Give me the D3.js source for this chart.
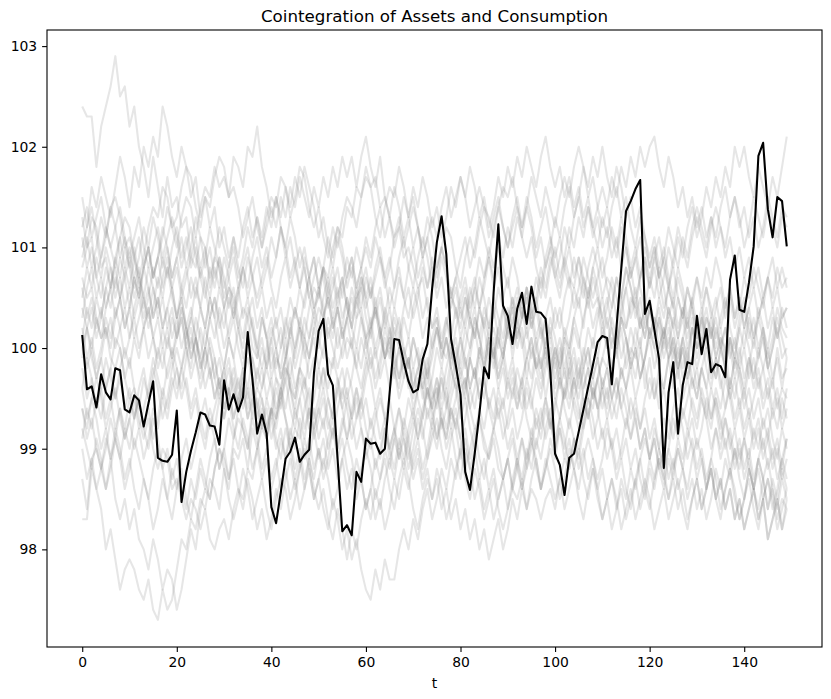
<!DOCTYPE html>
<html>
<head>
<meta charset="utf-8">
<script src="https://cdn.jsdelivr.net/npm/d3@7"></script>
<style>
  body { margin: 0; background: #fff; }
  svg text { font-family: "DejaVu Sans", sans-serif; fill: #000; }
</style>
</head>
<body>
<div id="chart"></div>
<script>
const chartTitle = "Cointegration of Assets and Consumption";
const xLabel = "t";
const xTicks = [0, 20, 40, 60, 80, 100, 120, 140];
const yTicks = [98, 99, 100, 101, 102, 103];

// highlighted path (black)
const consumption = [
  100.13, 99.59, 99.62, 99.41, 99.74, 99.56, 99.49, 99.80, 99.78, 99.39,
  99.36, 99.53, 99.48, 99.22, 99.45, 99.67, 98.91, 98.88, 98.87, 98.94,
  99.38, 98.47, 98.77, 98.98, 99.16, 99.36, 99.34, 99.23, 99.22, 99.04,
  99.68, 99.39, 99.54, 99.37, 99.51, 100.16, 99.69, 99.15, 99.34, 99.15,
  98.42, 98.26, 98.57, 98.90, 98.97, 99.11, 98.87, 98.94, 98.99, 99.75,
  100.17, 100.29, 99.74, 99.63, 98.90, 98.18, 98.24, 98.14, 98.77, 98.67,
  99.10, 99.05, 99.06, 98.95, 99.00, 99.55, 100.09, 100.08, 99.86, 99.67,
  99.56, 99.59, 99.89, 100.04, 100.59, 101.05, 101.31, 100.93, 100.09, 99.83,
  99.54, 98.77, 98.59, 98.95, 99.35, 99.81, 99.70, 100.55, 101.23, 100.42,
  100.32, 100.04, 100.39, 100.55, 100.24, 100.61, 100.36, 100.35, 100.29, 99.76,
  98.95, 98.84, 98.54, 98.91, 98.95, 99.17, 99.39, 99.61, 99.83, 100.06,
  100.12, 100.10, 99.64, 100.21, 100.79, 101.36, 101.46, 101.58, 101.67, 100.34,
  100.47, 100.18, 99.89, 98.81, 99.56, 99.86, 99.15, 99.63, 99.86, 99.84,
  100.32, 99.94, 100.19, 99.76, 99.84, 99.82, 99.71, 100.68, 100.92, 100.38,
  100.36, 100.65, 101.01, 101.91, 102.04, 101.38, 101.10, 101.50, 101.46, 101.01
];

// background paths (grey)
const path01 = [
  102.4,102.3,102.3,101.8,102.2,102.4,102.6,102.9,102.5,102.6, 102.2,102.4,102.0,101.8,101.5,101.9,101.6,101.3,101.7,101.4,
  101.5,101.2,101.3,100.9,100.8,101.1,101.0,100.6,100.9,100.8, 100.4,100.6,100.5,100.2,100.4,100.3,100.0,99.9,100.3,100.1,
  99.7,99.9,99.8,100.1,99.6,99.5,99.8,99.7,99.3,99.5, 99.8,99.6,99.9,99.8,100.2,99.9,100.1,100.0,100.3,100.4,
  100.1,100.2,100.5,100.2,99.9,100.0,99.7,100.0,99.8,99.9, 99.5,99.7,99.6,99.3,99.5,99.6,99.2,99.4,99.8,99.6,
  99.7,99.5,99.9,100.2,99.9,100.3,100.1,100.2,100.0,100.4, 100.3,99.9,100.2,100.1,99.7,100.0,99.8,99.9,99.5,99.8,
  100.0,99.7,100.1,100.0,100.3,100.5,100.2,100.6,100.4,100.5, 100.3,100.0,100.2,99.9,100.2,99.8,100.0,99.9,100.1,99.6,
  99.9,99.5,99.7,99.6,99.9,100.0,99.7,100.1,99.8,100.2, 100.0,100.1,100.3,100.2,99.9,100.1,100.0,99.6,99.9,99.8,
  99.5,99.8,100.1,99.9,100.2,99.8,99.6,100.0,99.7,99.8
];
const path02 = [
  98.3,98.3,98.8,98.6,98.4,98.0,98.2,97.9,97.6,97.8, 97.9,97.8,97.6,97.5,97.7,97.4,97.3,97.6,97.4,97.5,
  97.8,98.1,98.0,98.3,98.2,98.5,98.4,98.7,98.6,98.4, 98.8,98.6,99.0,98.9,99.1,98.8,99.2,99.0,99.3,99.1,
  99.4,99.2,99.5,99.3,99.0,99.2,99.1,99.4,99.6,99.3, 99.5,99.8,99.6,99.9,99.7,99.4,99.6,99.3,99.5,99.2,
  99.0,99.3,99.1,98.9,99.2,99.0,98.8,99.1,98.9,99.2, 99.4,99.1,99.3,99.6,99.4,99.7,99.5,99.8,100.0,99.7,
  99.9,100.2,100.0,100.3,100.1,99.8,100.1,99.9,99.6,99.8, 99.5,99.7,99.4,99.6,99.3,99.1,99.4,99.2,99.5,99.3,
  99.0,99.3,99.1,98.8,99.1,98.9,99.2,99.4,99.1,99.3, 99.6,99.4,99.7,99.5,99.8,99.6,99.3,99.5,99.2,99.4,
  99.1,99.3,99.0,98.8,99.0,99.3,99.1,99.4,99.2,99.5, 99.3,99.6,99.4,99.2,99.5,99.3,99.0,99.2,98.9,99.1,
  98.8,99.0,98.7,98.9,99.1,98.8,99.0,98.7,98.9,99.1
];
const path03 = [
  98.7,98.4,98.9,99.0,98.8,98.6,98.9,98.5,98.3,98.5, 98.2,98.4,98.1,98.0,97.8,98.1,97.9,97.6,97.8,97.7,
  97.4,97.6,97.9,98.2,98.0,98.4,98.6,98.5,98.8,99.0, 98.9,98.7,99.1,99.3,99.2,99.0,99.4,99.6,99.5,99.2,
  99.4,99.7,99.6,99.9,100.2,100.0,100.3,100.1,99.9,100.2, 100.4,100.3,100.6,100.8,100.5,100.7,100.4,100.2,100.5,100.6,
  100.3,100.1,100.4,100.2,99.9,100.1,99.8,99.6,99.9,99.7, 99.4,99.6,99.9,99.7,100.0,100.2,99.9,100.1,99.8,99.6,
  99.3,99.5,99.2,99.0,99.3,99.1,98.9,99.2,99.4,99.1, 99.3,99.6,99.4,99.7,99.9,100.1,99.8,100.0,100.3,100.1,
  100.4,100.2,100.5,100.7,100.6,100.9,100.7,100.5,100.8,100.6, 100.3,100.5,100.2,100.0,100.3,100.1,99.8,100.0,99.7,99.9,
  100.2,100.0,99.8,100.1,99.9,99.6,99.8,99.5,99.7,99.4, 99.2,99.5,99.3,99.0,99.2,98.9,99.1,98.8,99.0,98.7,
  98.5,98.8,98.6,98.9,98.7,98.4,98.7,98.5,98.8,98.6
];
const path04 = [
  101.5,101.2,101.6,101.4,101.7,101.5,101.3,101.6,101.9,101.7, 101.4,101.8,101.6,102.0,101.8,102.1,101.9,102.4,102.2,101.9,
  101.7,102.0,101.8,101.5,101.7,101.3,101.5,101.2,101.4,101.0, 101.2,100.9,101.1,100.8,100.6,100.9,100.7,100.4,100.6,100.3,
  100.5,100.2,100.4,100.1,100.3,99.9,100.2,100.0,99.7,99.9, 99.6,99.8,99.5,99.3,99.6,99.4,99.1,99.3,99.0,99.2,
  98.9,99.1,98.8,99.0,99.2,98.9,99.1,99.4,99.2,99.5, 99.3,99.6,99.8,99.5,99.7,100.0,99.8,100.1,99.9,100.2,
  100.4,100.2,100.5,100.7,100.4,100.6,100.9,100.7,101.0,100.8, 100.6,100.9,100.7,100.4,100.6,100.3,100.5,100.2,100.0,100.3,
  100.1,99.8,100.0,99.7,99.9,99.6,99.8,99.5,99.7,99.4, 99.6,99.3,99.5,99.7,99.4,99.6,99.8,99.5,99.7,99.9,
  100.1,99.8,100.0,100.2,100.0,100.3,100.1,100.4,100.2,100.5, 100.7,100.4,100.6,100.3,100.5,100.2,100.4,100.6,100.3,100.5,
  100.2,100.4,100.1,100.3,100.5,100.2,100.4,100.1,100.3,100.4
];
const path05 = [
  101.3,101.0,101.1,100.7,100.9,101.2,101.0,100.8,101.1,101.3, 101.2,100.9,100.6,100.8,101.0,100.7,100.9,101.1,101.4,101.2,
  101.0,101.3,101.5,101.4,101.1,101.4,101.6,101.5,101.8,101.6, 101.7,101.5,101.9,101.8,101.6,102.0,101.9,102.2,101.8,101.6,
  101.3,101.5,101.2,100.9,101.1,100.8,100.6,100.9,100.7,100.4, 100.5,100.8,100.6,100.3,100.5,100.7,100.4,100.2,100.5,100.3,
  100.0,100.2,99.9,100.1,100.4,100.2,99.9,99.7,100.0,99.8, 100.1,99.9,99.6,99.8,100.1,100.3,100.0,100.2,100.5,100.4,
  100.1,100.3,100.6,100.4,100.7,100.5,100.2,100.4,100.1,99.9, 100.2,100.4,100.1,100.3,100.6,100.3,100.5,100.8,100.6,100.9,
  100.7,100.5,100.8,101.0,100.7,100.9,100.6,100.4,100.7,100.5, 100.2,100.4,100.7,100.5,100.3,100.6,100.8,100.5,100.7,101.0,
  100.8,101.0,100.7,100.9,101.2,101.0,100.8,101.1,100.9,101.2, 101.4,101.2,101.0,101.3,101.1,101.4,101.6,101.3,101.5,101.2,
  101.4,101.1,101.3,101.0,101.2,101.5,101.3,101.1,101.4,101.3
];
const path06 = [
  101.0,101.2,101.4,101.1,100.8,100.9,100.6,100.8,100.5,100.7, 100.9,100.6,100.8,100.5,100.3,100.6,100.4,100.7,100.9,100.6,
  100.8,100.5,100.7,100.9,101.1,100.8,101.0,100.7,100.9,101.2, 101.0,100.8,101.1,100.9,101.2,101.4,101.1,101.3,101.0,101.2,
  101.4,101.2,101.5,101.3,101.6,101.4,101.7,101.5,101.3,101.6, 101.4,101.7,101.5,101.8,101.6,101.9,101.7,101.9,101.6,101.9,
  102.1,101.8,101.6,101.9,101.5,101.3,101.6,101.4,101.1,101.3, 101.0,101.2,100.9,101.1,100.8,100.6,100.9,100.7,100.4,100.6,
  100.3,100.5,100.2,100.4,100.1,99.9,100.2,100.0,99.7,99.9, 99.6,99.8,99.5,99.7,99.4,99.6,99.9,99.7,100.0,99.8,
  99.5,99.7,99.4,99.2,99.5,99.3,99.6,99.8,99.5,99.7, 99.9,100.1,99.8,100.0,100.3,100.1,99.9,100.2,100.0,100.3,
  100.5,100.2,100.4,100.1,100.3,100.0,99.8,100.1,99.9,99.6, 99.8,99.5,99.3,99.6,99.4,99.1,99.3,99.0,99.2,98.9,
  99.1,98.8,98.6,98.9,98.7,98.4,98.6,98.3,98.5,98.4
];
const path07 = [
  100.5,100.8,100.6,100.9,100.7,101.0,100.8,100.6,100.9,100.7, 100.4,100.7,100.5,100.8,101.0,100.7,100.9,100.6,100.8,100.5,
  100.3,100.5,100.2,100.0,100.3,100.1,99.8,100.1,99.9,99.6, 99.8,99.5,99.7,99.4,99.6,99.3,99.5,99.2,99.4,99.1,
  99.3,99.0,99.2,98.9,99.1,98.8,99.0,98.7,98.9,98.6, 98.4,98.6,98.3,98.1,98.4,98.2,97.9,98.2,98.0,98.3,
  98.5,98.3,98.6,98.4,98.7,98.9,98.7,99.0,98.8,99.1, 99.3,99.1,99.4,99.6,99.3,99.5,99.8,99.6,99.9,100.1,
  99.8,100.0,100.3,100.1,100.4,100.2,100.5,100.3,100.6,100.4, 100.2,100.5,100.3,100.0,100.2,99.9,100.1,99.8,100.0,99.7,
  99.9,99.6,99.8,99.5,99.7,99.4,99.2,99.5,99.3,99.0, 99.2,98.9,99.1,98.8,99.0,99.3,99.1,99.4,99.2,99.5,
  99.7,99.5,99.8,99.6,99.9,100.1,99.8,100.0,99.7,99.9, 100.2,100.0,100.3,100.1,100.4,100.6,100.3,100.5,100.2,100.4,
  100.7,100.5,100.8,100.6,100.4,100.7,100.5,100.8,100.6,100.7
];
const path08 = [
  100.4,100.2,100.0,100.3,100.1,100.4,100.6,100.3,100.5,100.8, 100.6,100.9,101.1,100.8,101.0,100.7,100.9,101.2,101.0,100.7,
  100.9,100.6,100.4,100.7,100.5,100.8,100.6,100.3,100.5,100.2, 100.4,100.6,100.3,100.5,100.8,100.6,100.9,101.1,100.8,101.0,
  100.7,100.9,101.2,101.0,100.7,100.9,100.6,100.8,100.5,100.3, 100.6,100.4,100.1,100.3,100.0,100.2,99.9,100.1,99.8,99.6,
  99.9,99.7,99.4,99.6,99.3,99.5,99.2,99.0,99.3,99.1, 98.8,99.0,98.7,98.9,99.2,99.0,99.3,99.1,99.4,99.2,
  99.5,99.7,99.4,99.6,99.9,99.7,100.0,99.8,100.1,99.9, 100.2,100.4,100.1,100.3,100.5,100.2,100.4,100.7,100.5,100.8,
  101.0,100.7,100.9,101.2,101.0,101.3,101.1,101.4,101.2,101.0, 101.3,101.1,101.4,101.6,101.3,101.5,101.2,101.0,101.3,101.1,
  100.8,101.0,100.7,100.9,100.6,100.4,100.7,100.5,100.2,100.4, 100.1,100.3,100.0,100.2,99.9,100.1,99.8,99.6,99.9,99.7,
  99.4,99.6,99.3,99.5,99.2,99.4,99.1,98.9,99.2,99.0
];
const path09 = [
  100.2,99.9,100.1,99.8,100.0,100.3,100.1,100.4,100.2,99.9, 100.1,100.4,100.6,100.3,100.5,100.8,100.6,100.9,100.7,101.0,
  101.2,100.9,101.1,100.8,101.0,100.7,100.5,100.8,100.6,100.9, 100.7,100.4,100.6,100.3,100.1,100.4,100.2,99.9,100.1,99.8,
  100.0,99.7,99.5,99.8,99.6,99.3,99.5,99.2,99.4,99.1, 99.3,99.5,99.2,99.4,99.7,99.5,99.8,99.6,99.3,99.5,
  99.8,100.0,99.7,99.9,100.2,100.0,100.3,100.1,100.4,100.6, 100.3,100.5,100.8,100.6,100.9,100.7,101.0,100.8,100.5,100.7,
  100.4,100.6,100.3,100.1,100.4,100.2,99.9,100.1,99.8,100.0, 99.7,99.9,99.6,99.4,99.7,99.5,99.2,99.4,99.1,99.3,
  99.0,99.2,98.9,99.1,98.8,99.0,98.7,98.5,98.8,98.6, 98.3,98.5,98.2,98.4,98.7,98.5,98.8,98.6,98.9,99.1,
  98.9,99.2,99.0,99.3,99.1,99.4,99.6,99.3,99.5,99.7, 99.5,99.8,99.6,99.9,99.7,100.0,99.8,100.1,99.9,100.2,
  100.0,100.3,100.1,100.4,100.2,100.0,100.3,100.1,100.4,100.2
];
const path10 = [
  99.9,100.2,100.4,100.1,100.3,100.6,100.4,100.7,100.5,100.2, 100.4,100.1,100.3,100.5,100.2,100.4,100.7,100.5,100.8,100.6,
  100.3,100.6,100.8,100.5,100.7,100.4,100.2,100.5,100.3,100.0, 99.8,100.1,99.9,99.6,99.8,99.5,99.7,99.4,99.2,99.5,
  99.3,99.6,99.4,99.7,99.9,99.6,99.8,100.1,99.9,100.2, 100.0,100.3,100.5,100.2,100.4,100.1,100.3,100.6,100.4,100.7,
  100.5,100.2,100.4,100.1,99.9,100.2,100.0,99.7,99.9,99.6, 99.8,99.5,99.3,99.6,99.4,99.1,99.3,99.0,99.2,98.9,
  98.7,99.0,98.8,98.5,98.7,98.4,98.6,98.3,98.5,98.7, 98.9,98.6,98.8,99.1,98.9,99.2,99.0,99.3,99.5,99.2,
  99.4,99.7,99.5,99.8,100.0,99.7,99.9,100.2,100.0,100.3, 100.5,100.2,100.4,100.7,100.5,100.8,100.6,100.3,100.5,100.2,
  100.4,100.1,100.3,100.0,100.2,99.9,100.1,99.8,100.0,99.7, 99.5,99.8,99.6,99.3,99.5,99.2,99.4,99.7,99.5,99.8,
  99.6,99.9,99.7,100.0,99.8,99.5,99.7,99.4,99.6,99.5
];
const path11 = [
  99.8,99.5,99.7,99.4,99.6,99.9,99.7,99.5,99.8,100.0, 99.8,100.1,99.9,100.2,100.4,100.1,100.3,100.0,100.2,99.9,
  100.1,100.3,100.0,100.2,99.9,99.7,100.0,99.8,99.5,99.7, 99.4,99.6,99.3,99.5,99.2,99.0,99.3,99.1,98.8,99.0,
  98.7,98.9,98.6,98.8,98.5,98.7,98.4,98.6,98.9,98.7, 99.0,98.8,99.1,99.3,99.0,99.2,99.5,99.3,99.6,99.4,
  99.7,99.9,99.6,99.8,100.1,99.9,100.2,100.0,100.3,100.1, 100.4,100.6,100.3,100.5,100.2,100.4,100.1,100.3,100.0,99.8,
  100.1,99.9,99.6,99.8,99.5,99.7,99.4,99.6,99.3,99.5, 99.2,99.4,99.1,99.3,99.6,99.4,99.7,99.5,99.8,100.0,
  99.7,99.9,100.2,100.0,100.3,100.1,99.8,100.0,99.7,99.9, 99.6,99.8,99.5,99.3,99.6,99.4,99.1,99.3,99.0,99.2,
  98.9,99.1,98.8,99.0,98.7,98.9,98.6,98.8,98.5,98.7, 98.4,98.6,98.3,98.5,98.8,98.6,98.9,98.7,99.0,98.8,
  99.1,98.9,99.2,99.0,99.3,99.1,98.8,99.0,98.7,98.9
];
const path12 = [
  99.4,99.2,99.5,99.3,99.0,99.2,98.9,99.1,99.4,99.2, 99.5,99.3,99.6,99.8,99.5,99.7,100.0,99.8,100.1,99.9,
  100.2,100.4,100.1,100.3,100.6,100.4,100.7,100.5,100.8,100.6, 100.9,100.7,100.4,100.6,100.3,100.5,100.2,100.0,100.3,100.1,
  99.8,100.0,99.7,99.9,99.6,99.4,99.7,99.5,99.2,99.4, 99.1,99.3,99.0,99.2,98.9,99.1,98.8,98.6,98.9,98.7,
  98.4,98.6,98.3,98.5,98.2,98.4,98.7,98.5,98.8,98.6, 98.9,99.1,98.8,99.0,99.3,99.1,99.4,99.2,99.5,99.7,
  99.4,99.6,99.9,99.7,100.0,99.8,100.1,99.9,100.2,100.0, 100.3,100.5,100.2,100.4,100.1,100.3,100.0,99.8,100.1,99.9,
  99.6,99.8,99.5,99.7,99.4,99.2,99.5,99.3,99.6,99.4, 99.7,99.5,99.8,100.0,99.7,99.9,100.2,100.0,100.3,100.1,
  100.4,100.2,100.5,100.3,100.6,100.4,100.1,100.3,100.0,100.2, 99.9,100.1,99.8,99.6,99.9,99.7,99.4,99.6,99.3,99.5,
  99.2,99.4,99.1,99.3,99.0,99.2,98.9,99.1,98.8,99.1
];
const path13 = [
  99.2,99.0,98.8,99.1,98.9,98.6,98.8,99.1,98.9,99.2, 99.0,99.3,99.5,99.2,99.4,99.1,99.3,99.6,99.4,99.7,
  99.5,99.8,99.6,99.3,99.5,99.2,99.0,99.3,99.1,98.8, 99.0,98.7,98.9,98.6,98.4,98.7,98.5,98.2,98.4,98.1,
  98.3,98.6,98.4,98.7,98.9,98.6,98.8,99.1,98.9,99.2, 99.4,99.2,99.5,99.3,99.6,99.8,99.5,99.7,100.0,99.8,
  100.1,100.3,100.0,100.2,99.9,100.1,99.8,100.0,99.7,99.9, 99.6,99.8,99.5,99.7,99.4,99.6,99.3,99.1,99.4,99.2,
  98.9,99.1,98.8,99.0,98.7,98.9,98.6,98.8,98.5,98.7, 98.4,98.6,98.9,98.7,99.0,98.8,99.1,98.9,99.2,99.4,
  99.1,99.3,99.6,99.4,99.7,99.5,99.8,100.0,99.7,99.9, 99.6,99.8,99.5,99.7,99.4,99.2,99.5,99.3,99.0,99.2,
  98.9,99.1,98.8,98.6,98.9,98.7,99.0,98.8,99.1,99.3, 99.0,99.2,99.5,99.3,99.6,99.4,99.7,99.5,99.2,99.4,
  99.1,99.3,99.0,99.2,98.9,99.1,99.4,99.2,99.5,99.3
];
const path14 = [
  99.0,98.7,98.9,98.6,98.8,99.1,98.9,99.2,99.0,98.7, 98.9,98.6,98.4,98.7,98.5,98.2,98.4,98.7,98.5,98.8,
  98.6,98.9,99.1,98.8,99.0,99.3,99.1,99.4,99.2,99.5, 99.3,99.6,99.8,99.5,99.7,99.4,99.6,99.3,99.5,99.2,
  99.4,99.1,98.9,99.2,99.0,98.7,98.9,98.6,98.8,98.5, 98.7,98.4,98.2,98.5,98.3,98.0,98.2,97.9,98.1,97.8,
  97.6,97.5,97.8,97.6,97.9,97.7,97.7,98.0,98.2,98.0, 98.3,98.1,98.4,98.6,98.3,98.5,98.8,98.6,98.9,98.7,
  99.0,99.2,98.9,99.1,99.4,99.2,99.5,99.3,99.6,99.4, 99.7,99.5,99.8,99.6,99.9,99.7,100.0,100.2,99.9,100.1,
  99.8,100.0,99.7,99.9,99.6,99.8,99.5,99.3,99.6,99.4, 99.1,99.3,99.0,99.2,98.9,99.1,98.8,99.0,98.7,98.5,
  98.8,98.6,98.9,98.7,99.0,98.8,99.1,98.9,99.2,99.0, 98.7,98.9,98.6,98.8,98.5,98.7,98.4,98.6,98.3,98.5,
  98.2,98.4,98.6,98.3,98.5,98.1,98.3,98.5,98.2,98.4
];
const path15 = [
  100.9,101.1,100.8,101.0,101.3,101.1,101.4,101.2,100.9,101.1, 100.8,101.0,100.7,100.5,100.8,100.6,100.3,100.5,100.2,100.4,
  100.1,100.3,100.0,99.8,100.1,99.9,99.6,99.8,99.5,99.7, 99.4,99.6,99.3,99.5,99.8,99.6,99.9,99.7,100.0,99.8,
  100.1,100.3,100.0,100.2,100.5,100.3,100.6,100.4,100.7,100.9, 100.6,100.8,101.1,100.9,101.2,101.0,100.7,100.9,100.6,100.8,
  100.5,100.7,100.4,100.6,100.3,100.1,100.4,100.2,99.9,100.1, 99.8,100.0,99.7,99.9,99.6,99.4,99.7,99.5,99.2,99.4,
  99.1,99.3,99.6,99.4,99.7,99.5,99.8,100.0,99.7,99.9, 100.2,100.0,100.3,100.5,100.2,100.4,100.7,100.5,100.8,101.0,
  100.7,100.9,101.2,101.0,101.3,101.5,101.2,101.4,101.1,101.3, 101.0,101.2,100.9,101.1,100.8,101.0,100.7,100.9,100.6,100.4,
  100.7,100.5,100.8,100.6,100.3,100.5,100.2,100.4,100.1,100.3, 100.0,100.2,100.4,100.1,100.3,100.0,100.2,99.9,100.1,99.8,
  100.0,99.7,99.9,99.6,99.8,100.0,99.7,99.9,99.6,99.9
];
const path16 = [
  100.6,100.3,100.5,100.2,100.4,100.1,100.3,100.0,100.2,100.4, 100.1,100.3,100.0,100.2,99.9,100.1,99.8,100.0,99.7,99.9,
  99.6,99.8,100.0,99.7,99.9,100.2,100.0,100.3,100.1,100.4, 100.2,100.5,100.3,100.6,100.8,100.5,100.7,100.9,100.6,100.8,
  101.1,100.9,101.2,101.0,101.3,101.1,100.8,101.0,100.7,100.9, 100.6,100.8,100.5,100.7,100.4,100.6,100.9,100.7,101.0,100.8,
  101.1,100.9,101.2,101.4,101.1,101.3,101.0,101.2,101.5,101.3, 101.6,101.4,101.7,101.5,101.2,101.4,101.1,101.3,101.6,101.4,
  101.7,101.5,101.8,101.6,101.3,101.5,101.2,101.4,101.7,101.5, 101.8,101.6,101.9,101.7,102.0,101.8,101.6,101.9,102.1,101.8,
  101.6,101.8,101.5,101.7,101.4,101.6,101.3,101.5,101.2,101.4, 101.6,101.4,101.7,101.5,101.8,101.6,101.9,101.7,102.0,101.8,
  102.0,102.1,101.8,101.6,101.9,101.7,101.4,101.6,101.3,101.5, 101.2,101.4,101.1,101.3,101.0,101.2,100.9,101.1,100.8,101.0,
  100.7,100.9,100.6,100.8,100.5,100.7,100.9,100.6,100.8,100.6
];
const path17 = [
  99.6,99.9,99.7,99.4,99.6,99.3,99.5,99.2,99.4,99.1, 99.3,99.0,99.2,98.9,99.1,99.4,99.2,99.5,99.3,99.6,
  99.8,99.5,99.7,99.4,99.6,99.3,99.5,99.2,99.4,99.6, 99.3,99.5,99.2,99.0,99.3,99.1,98.8,99.0,98.7,98.9,
  98.6,98.8,99.1,98.9,99.2,99.0,99.3,99.1,99.4,99.2, 98.9,99.1,98.8,99.0,98.7,98.9,98.6,98.8,98.5,98.7,
  98.4,98.6,98.9,98.7,99.0,98.8,99.1,98.9,99.2,99.0, 98.7,98.9,98.6,98.8,98.5,98.7,98.4,98.6,98.3,98.5,
  98.2,98.4,98.1,98.3,98.0,98.2,97.9,98.1,98.3,98.0, 98.2,98.5,98.3,98.6,98.4,98.7,98.9,98.6,98.8,99.1,
  98.9,99.2,99.0,99.3,99.1,98.8,99.0,98.7,98.9,98.6, 98.8,98.5,98.7,98.4,98.6,98.3,98.5,98.7,98.4,98.6,
  98.9,98.7,99.0,98.8,98.5,98.7,98.4,98.6,98.3,98.5, 98.7,98.4,98.6,98.8,98.5,98.7,98.4,98.6,98.3,98.5,
  98.2,98.4,98.6,98.3,98.5,98.1,98.3,98.5,98.2,98.5
];
const path18 = [
  100.1,100.4,100.2,100.5,100.3,100.6,100.8,100.5,100.7,100.4, 100.6,100.3,100.5,100.2,100.4,100.1,99.9,100.2,100.0,100.3,
  100.1,100.4,100.2,99.9,100.1,99.8,100.0,99.7,99.9,99.6, 99.8,100.1,99.9,100.2,100.0,100.3,100.5,100.2,100.4,100.1,
  100.3,100.0,100.2,99.9,100.1,99.8,100.0,100.3,100.1,100.4, 100.2,100.5,100.7,100.4,100.6,100.3,100.5,100.2,100.0,100.3,
  100.1,99.8,100.0,99.7,99.9,99.6,99.8,99.5,99.7,99.9, 99.6,99.8,100.0,99.7,99.9,100.2,100.0,100.3,100.1,100.4,
  100.2,100.5,100.3,100.6,100.4,100.7,100.9,100.6,100.8,100.5, 100.7,100.4,100.6,100.3,100.5,100.2,100.4,100.1,100.3,100.5,
  100.2,100.4,100.1,100.3,100.6,100.4,100.7,100.5,100.8,101.0, 100.7,100.9,101.2,101.0,101.3,101.1,100.8,101.0,100.7,100.9,
  100.6,100.8,100.5,100.7,101.0,100.8,101.1,100.9,101.2,101.4, 101.1,101.3,101.6,101.4,101.7,101.5,101.8,101.6,102.0,101.8,
  102.0,101.7,101.5,101.8,101.6,101.4,101.7,101.5,101.8,102.1
];
const path19 = [
  101.1,100.8,101.0,100.7,100.5,100.8,100.6,100.9,101.1,100.8, 101.0,100.7,100.9,101.2,101.0,101.3,101.1,100.8,101.0,100.7,
  100.9,101.1,100.8,101.0,101.3,101.1,100.8,101.0,100.7,100.9, 100.6,100.8,101.0,100.7,100.9,101.2,101.0,101.3,101.1,101.4,
  101.2,101.5,101.3,101.6,101.4,101.7,101.5,101.8,101.6,101.4, 101.1,101.3,101.0,100.8,101.1,100.9,100.6,100.8,100.5,100.7,
  100.4,100.6,100.3,100.5,100.2,100.4,100.1,100.3,100.0,99.8, 100.1,99.9,99.6,99.8,99.5,99.7,99.4,99.6,99.3,99.5,
  99.8,99.6,99.9,99.7,100.0,99.8,100.1,99.9,100.2,100.4, 100.1,100.3,100.0,100.2,99.9,100.1,99.8,99.6,99.9,99.7,
  100.0,99.8,100.1,99.9,100.2,100.0,100.3,100.5,100.2,100.4, 100.1,100.3,100.0,100.2,99.9,100.1,99.8,100.0,99.7,99.9,
  100.2,100.0,100.3,100.1,100.4,100.2,100.5,100.3,100.6,100.4, 100.7,100.5,100.8,100.6,100.9,100.7,100.4,100.6,100.3,100.5,
  100.2,100.4,100.6,100.3,100.5,100.7,100.4,100.6,100.3,100.4
];
const path20 = [
  99.1,99.4,99.2,99.5,99.3,99.6,99.8,99.5,99.7,99.4, 99.6,99.3,99.5,99.2,99.0,99.3,99.1,98.8,99.0,98.7,
  98.9,98.6,98.4,98.7,98.5,98.8,98.6,98.9,99.1,98.8, 99.0,99.3,99.1,99.4,99.6,99.3,99.5,99.8,99.6,99.9,
  100.1,99.8,100.0,100.3,100.1,100.4,100.2,100.5,100.7,100.4, 100.6,100.3,100.5,100.2,100.4,100.1,100.3,100.0,99.8,100.1,
  99.9,100.2,100.4,100.1,100.3,100.6,100.4,100.7,100.5,100.8, 101.0,100.7,100.9,100.6,100.8,100.5,100.7,100.4,100.6,100.3,
  100.5,100.7,100.4,100.6,100.9,100.7,101.0,100.8,101.1,100.9, 101.2,101.0,101.3,101.1,101.4,101.2,100.9,101.1,100.8,101.0,
  101.3,101.1,101.4,101.6,101.3,101.5,101.8,101.6,101.9,101.7, 102.0,101.7,101.5,101.8,101.6,101.3,101.5,101.2,101.4,101.1,
  100.9,101.1,100.8,101.0,100.7,100.5,100.8,100.6,100.3,100.5, 100.2,100.4,100.1,100.3,100.0,100.2,99.9,100.1,99.8,100.0,
  99.7,99.9,99.6,99.8,99.5,99.7,99.4,99.6,99.3,99.6
];
const path21 = [
  100.0,99.8,100.0,99.7,99.9,100.2,100.0,100.3,100.5,100.2, 100.4,100.7,100.5,100.8,100.6,100.3,100.5,100.2,100.4,100.1,
  100.3,100.0,100.2,99.9,100.1,100.4,100.2,100.5,100.3,100.6, 100.4,100.1,100.3,100.0,99.8,100.1,99.9,99.6,99.8,99.5,
  99.7,99.4,99.6,99.3,99.1,99.4,99.2,98.9,99.1,98.8, 99.0,98.7,98.9,99.2,99.0,99.3,99.1,99.4,99.6,99.3,
  99.5,99.2,99.4,99.1,99.3,99.0,99.2,98.9,99.1,98.8, 99.0,99.3,99.1,99.4,99.2,99.5,99.7,99.4,99.6,99.9,
  100.1,99.8,100.0,100.3,100.1,100.4,100.2,100.5,100.3,100.1, 100.4,100.2,100.5,100.3,100.6,100.4,100.1,100.3,100.0,100.2,
  99.9,100.1,99.8,100.0,99.7,99.9,99.6,99.8,99.5,99.7, 99.4,99.6,99.3,99.5,99.8,99.6,99.9,99.7,100.0,99.8,
  99.5,99.7,99.4,99.6,99.3,99.1,99.4,99.2,98.9,99.1, 98.8,99.0,98.7,98.9,99.2,99.0,99.3,99.1,98.8,99.0,
  98.7,98.9,98.6,98.8,98.5,98.7,98.4,98.6,98.9,98.7
];
const path22 = [
  100.3,100.6,100.8,100.5,100.7,100.4,100.6,100.9,100.7,101.0, 100.8,100.5,100.7,100.4,100.6,100.3,100.5,100.2,100.4,100.6,
  100.3,100.5,100.2,100.4,100.1,99.9,100.2,100.0,99.7,99.9, 99.6,99.8,99.5,99.7,99.4,99.6,99.3,99.5,99.2,99.4,
  99.1,99.3,99.6,99.4,99.7,99.5,99.8,99.6,99.9,100.1, 99.8,100.0,100.3,100.1,100.4,100.2,100.5,100.3,100.6,100.4,
  100.7,100.5,100.8,101.0,100.7,100.9,100.6,100.8,100.5,100.3, 100.6,100.4,100.1,100.3,100.0,100.2,99.9,100.1,99.8,100.0,
  99.7,99.9,99.6,99.8,99.5,99.7,99.4,99.2,99.5,99.3, 99.0,99.2,98.9,99.1,98.8,99.0,99.3,99.1,99.4,99.2,
  99.5,99.3,99.6,99.8,99.5,99.7,100.0,99.8,100.1,99.9, 100.2,100.0,100.3,100.1,100.4,100.6,100.3,100.5,100.2,100.4,
  100.1,100.3,100.0,100.2,99.9,100.1,99.8,100.0,99.7,99.9, 99.6,99.8,100.0,99.7,99.9,99.6,99.8,99.5,99.7,99.4,
  99.6,99.3,99.5,99.7,99.4,99.6,99.3,99.5,99.2,99.4
];
const path23 = [
  100.8,101.0,101.3,101.2,100.9,101.1,101.4,101.5,101.3,101.0, 101.1,100.9,100.7,100.9,101.2,101.4,101.3,101.6,101.5,101.2,
  101.3,101.6,101.8,101.7,101.4,101.2,101.5,101.4,101.7,101.9, 101.8,101.5,101.6,101.4,101.1,101.3,101.5,101.2,101.0,101.3,
  101.5,101.4,101.7,101.6,101.3,101.5,101.8,101.7,101.4,101.2, 101.4,101.1,100.9,101.2,101.0,101.3,101.5,101.4,101.2,101.5,
  101.7,101.6,101.3,101.1,101.4,101.6,101.5,101.8,101.6,101.3, 101.5,101.2,101.0,101.3,101.1,100.8,101.0,101.2,101.1,100.8,
  100.6,100.9,101.1,100.9,101.2,101.4,101.3,101.1,101.4,101.6, 101.5,101.7,101.4,101.2,101.5,101.3,101.0,101.2,101.4,101.1,
  100.9,101.1,100.8,100.6,100.9,100.7,100.5,100.8,101.0,100.8, 100.5,100.7,100.6,100.3,100.5,100.8,100.6,100.4,100.7,100.9,
  100.7,100.9,101.1,100.8,100.6,100.9,101.2,101.0,100.8,101.1, 101.3,101.1,100.9,101.2,101.4,101.2,101.0,101.3,101.5,101.3,
  101.0,101.2,101.5,101.3,101.1,101.4,101.2,101.0,101.3,101.2
];
const path24 = [
  99.4,99.1,99.3,99.0,98.8,99.0,99.3,99.1,98.9,98.6, 98.8,99.1,98.9,98.7,98.5,98.8,99.0,98.8,98.5,98.3,
  98.6,98.8,98.5,98.3,98.6,98.9,98.7,98.5,98.8,99.0, 98.8,98.5,98.3,98.5,98.8,98.6,98.3,98.5,98.7,98.4,
  98.2,98.5,98.7,98.6,98.3,98.5,98.8,99.0,98.8,98.5, 98.7,98.9,98.7,98.4,98.6,98.9,99.1,98.9,98.6,98.8,
  99.0,98.8,98.5,98.7,98.9,98.6,98.4,98.7,98.9,98.7, 98.4,98.2,98.5,98.7,98.5,98.8,98.6,98.3,98.5,98.8,
  99.0,98.7,98.5,98.8,98.6,98.3,98.5,98.7,98.4,98.2, 98.4,98.7,98.9,98.6,98.8,99.1,98.9,98.6,98.8,99.0,
  98.8,98.5,98.7,99.0,98.8,98.6,98.9,99.1,98.9,98.7, 98.9,99.2,99.0,98.7,98.9,98.6,98.4,98.7,98.9,98.6,
  98.4,98.7,98.9,98.7,98.5,98.8,99.0,98.8,98.6,98.9, 99.1,98.9,98.6,98.8,98.5,98.3,98.6,98.8,98.5,98.3,
  98.5,98.8,98.6,98.4,98.7,98.9,98.6,98.4,98.7,98.5
];
const path25 = [
  100.7,100.5,100.6,100.3,100.1,100.2,99.9,99.8,100.0,99.7, 99.5,99.6,99.3,99.1,99.3,99.0,98.8,99.0,98.9,98.6,
  98.7,98.5,98.3,98.5,98.4,98.2,98.4,98.1,98.0,98.2, 98.3,98.1,98.4,98.6,98.5,98.8,98.7,99.0,99.2,99.1,
  99.4,99.3,99.6,99.8,99.7,100.0,100.2,100.1,100.4,100.6, 100.5,100.8,100.7,101.0,101.2,101.1,101.4,101.3,101.6,101.5,
  101.8,101.6,101.7,101.4,101.5,101.3,101.1,101.2,100.9,101.0, 100.8,100.6,100.7,100.4,100.2,100.3,100.0,99.9,100.1,99.8,
  99.6,99.7,99.4,99.2,99.3,99.0,98.9,99.1,98.8,98.7, 98.9,98.6,98.5,98.7,98.4,98.6,98.5,98.3,98.5,98.6,
  98.4,98.7,98.9,98.8,99.1,99.0,99.3,99.5,99.4,99.7, 99.9,99.8,100.1,100.0,100.3,100.2,100.5,100.4,100.2,100.4,
  100.1,100.3,100.2,99.9,100.1,99.8,100.0,99.7,99.9,100.2, 100.0,100.3,100.1,99.9,100.2,100.0,99.8,100.1,99.9,100.2,
  100.4,100.1,100.3,100.0,100.2,99.9,100.1,100.4,100.2,100.1
];
const path26 = [
  100.0,100.2,99.9,99.7,99.9,99.6,99.8,100.1,100.0,99.7, 99.9,99.6,99.4,99.7,99.5,99.8,99.6,99.3,99.5,99.8,
  100.0,99.8,100.1,100.3,100.1,99.8,100.0,100.3,100.5,100.3, 100.0,100.2,100.4,100.2,99.9,100.1,100.3,100.0,99.8,100.0,
  100.2,100.0,99.7,99.9,100.2,100.4,100.2,99.9,100.1,100.3, 100.1,99.9,100.2,100.0,99.8,100.0,100.3,100.5,100.3,100.6,
  100.8,100.5,100.7,100.9,100.7,100.4,100.6,100.9,101.1,100.8, 100.6,100.9,101.1,100.9,100.6,100.8,101.0,100.8,100.5,100.7,
  100.9,101.1,100.8,101.0,101.3,101.1,100.9,101.2,101.4,101.2, 101.0,101.3,101.5,101.2,101.4,101.7,101.5,101.3,101.6,101.4,
  101.2,101.5,101.7,101.5,101.8,102.0,101.8,101.5,101.7,101.4, 101.2,101.4,101.1,100.9,101.2,101.0,100.7,100.9,101.1,100.8,
  100.6,100.9,100.7,100.4,100.6,100.8,100.5,100.3,100.6,100.4, 100.1,100.3,100.6,100.4,100.1,100.3,100.5,100.2,100.0,100.3,
  100.5,100.2,100.0,100.3,100.1,99.8,100.0,100.3,100.1,99.9
];
const path27 = [
  99.6,99.3,99.5,99.7,99.5,99.2,99.4,99.6,99.3,99.1, 99.3,99.5,99.2,99.4,99.6,99.9,99.7,99.5,99.8,100.0,
  99.8,99.6,99.9,100.1,99.9,99.6,99.8,100.0,99.7,99.5, 99.7,99.9,99.6,99.4,99.7,99.9,99.7,99.4,99.6,99.8,
  99.6,99.3,99.5,99.7,99.4,99.2,99.5,99.7,99.5,99.2, 99.4,99.6,99.3,99.1,99.4,99.6,99.4,99.1,99.3,99.5,
  99.2,99.0,99.3,99.5,99.3,99.0,99.2,99.4,99.1,98.9, 99.2,99.4,99.2,98.9,99.1,99.3,99.0,98.8,99.1,99.3,
  99.1,98.8,99.0,99.2,98.9,98.7,99.0,99.2,99.0,98.7, 98.9,99.1,98.8,98.6,98.9,99.1,98.8,98.6,98.9,98.7,
  98.5,98.7,98.4,98.6,98.8,98.5,98.3,98.6,98.8,98.5, 98.3,98.5,98.7,98.5,98.2,98.4,98.6,98.3,98.5,98.7,
  98.5,98.2,98.4,98.6,98.3,98.5,98.7,98.4,98.2,98.5, 98.7,98.4,98.6,98.9,98.7,98.4,98.6,98.8,98.6,98.3,
  98.5,98.7,98.4,98.2,98.5,98.7,98.5,98.2,98.4,98.6
];
const path28 = [
  101.2,101.4,101.1,101.3,101.5,101.2,101.0,101.2,101.4,101.1, 100.9,101.1,101.3,101.0,100.8,101.0,101.2,100.9,101.1,101.3,
  101.1,100.8,101.0,101.2,100.9,100.7,100.9,101.2,101.0,100.8, 100.5,100.7,100.9,100.6,100.8,101.0,100.7,100.5,100.7,100.9,
  100.6,100.4,100.7,100.9,100.6,100.8,101.0,100.8,100.5,100.7, 100.9,100.7,100.4,100.6,100.8,100.5,100.7,100.9,100.6,100.8,
  101.0,100.8,101.1,100.9,100.6,100.8,101.1,101.3,101.0,101.2, 101.4,101.2,100.9,101.1,101.3,101.1,101.4,101.6,101.3,101.5,
  101.7,101.5,101.2,101.4,101.6,101.4,101.1,101.3,101.5,101.2, 101.0,101.2,101.4,101.1,100.9,101.1,100.8,100.6,100.9,101.1,
  100.8,100.6,100.9,100.7,100.4,100.6,100.9,100.7,100.5,100.7, 100.9,100.6,100.4,100.7,100.5,100.2,100.4,100.6,100.3,100.1,
  100.4,100.2,99.9,100.1,100.4,100.2,99.9,100.1,100.3,100.0, 99.8,100.0,100.2,99.9,99.7,100.0,100.2,100.0,99.7,99.9,
  100.2,100.0,99.7,99.9,100.1,99.8,100.0,100.2,99.9,100.0
];

const greyPaths = [path01, path02, path03, path04, path05, path06, path07, path08, path09, path10,
  path11, path12, path13, path14, path15, path16, path17, path18, path19, path20,
  path21, path22, path23, path24, path25, path26, path27, path28];

const W = 831, H = 699;
const margin = { top: 30, right: 9, bottom: 52, left: 47 };
const width = W - margin.left - margin.right;
const height = H - margin.top - margin.bottom;

const svg = d3.select("#chart").append("svg")
  .attr("width", W).attr("height", H);

const x = d3.scaleLinear().domain([-7.45, 156.45]).range([0, width]);
const y = d3.scaleLinear().domain([97.03, 103.16]).range([height, 0]);

const g = svg.append("g").attr("transform", `translate(${margin.left},${margin.top})`);

const line = d3.line()
  .x((d, i) => x(i))
  .y(d => y(d));

// grey background paths
g.selectAll(".grey-path")
  .data(greyPaths)
  .enter().append("path")
  .attr("class", "grey-path")
  .attr("d", line)
  .attr("fill", "none")
  .attr("stroke", "grey")
  .attr("stroke-opacity", 0.2)
  .attr("stroke-width", 2.08)
  .attr("stroke-linejoin", "round");

// highlighted path
g.append("path")
  .datum(consumption)
  .attr("d", line)
  .attr("fill", "none")
  .attr("stroke", "black")
  .attr("stroke-width", 2.08)
  .attr("stroke-linejoin", "round");

// axes
const xAxis = d3.axisBottom(x).tickValues(xTicks).tickSize(4.9).tickPadding(4.9).tickFormat(d3.format("d"));
const yAxis = d3.axisLeft(y).tickValues(yTicks).tickSize(4.9).tickPadding(4.9).tickFormat(d3.format("d"));

const gx = g.append("g").attr("transform", `translate(0,${height})`).call(xAxis);
const gy = g.append("g").call(yAxis);
[gx, gy].forEach(a => {
  a.select(".domain").remove();
  a.selectAll(".tick line").attr("stroke", "#000").attr("stroke-width", 1.1);
  a.selectAll(".tick text").style("font-size", "13.9px").style("font-family", "DejaVu Sans");
});

// frame
g.append("rect")
  .attr("x", 0).attr("y", 0)
  .attr("width", width).attr("height", height)
  .attr("fill", "none")
  .attr("stroke", "#000")
  .attr("stroke-width", 1.1);

// title and label
svg.append("text")
  .attr("x", margin.left + width / 2).attr("y", 22)
  .attr("text-anchor", "middle")
  .style("font-size", "16.7px")
  .text(chartTitle);

svg.append("text")
  .attr("x", margin.left + width / 2).attr("y", 688)
  .attr("text-anchor", "middle")
  .style("font-size", "13.9px")
  .text(xLabel);
</script>
</body>
</html>
